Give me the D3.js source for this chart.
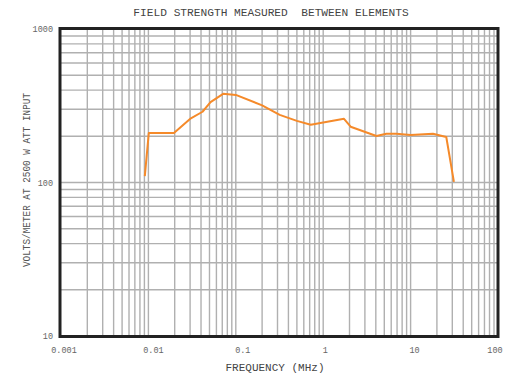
<!DOCTYPE html>
<html><head><meta charset="utf-8">
<script src="https://cdn.jsdelivr.net/npm/d3@7"></script>
<style>body{margin:0;background:#fff}svg{display:block}</style>
</head><body>
<script>
const freqs  = [0.0091, 0.0101, 0.0196, 0.0306, 0.0416, 0.0514, 0.0716, 0.1, 0.2, 0.318, 0.5, 0.72, 1.73, 2.06, 4.06, 5.28, 6.87, 10, 18, 25.6, 31.3];
const values = [110, 210, 210, 262, 289, 334, 378, 372, 318, 276, 252, 238, 260, 231, 201, 208, 208, 204, 208, 198, 101];
const xTickVals = [0.001, 0.01, 0.1, 1, 10, 100];
const xTickLabels = ["0.001", "0.01", "0.1", "1", "10", "100"];
const yTickVals = [10, 100, 1000];
const yTickLabels = ["10", "100", "1000"];
const title = "FIELD STRENGTH MEASURED  BETWEEN ELEMENTS";
const xTitle = "FREQUENCY (MHz)";
const yTitle = "VOLTS/METER AT 2500 W ATT INPUT";

const W = 513, H = 376;
const m = {l: 61, r: 15, t: 29, b: 40};
const svg = d3.select("body").append("svg").attr("width", W).attr("height", H);
const x = d3.scaleLog().domain([0.001, 100]).range([m.l, W - m.r]);
const y = d3.scaleLog().domain([10, 1000]).range([H - m.b, m.t]);
const font = "'Liberation Mono', 'Courier New', monospace";

// grid
const xGrid = [];
for (let d = 0.001; d < 100; d *= 10) for (let k = 1; k <= 9; k++) if (!(d === 0.001 && k === 1)) xGrid.push(d * k);
const yGrid = [];
for (let d = 10; d < 1000; d *= 10) for (let k = 1; k <= 9; k++) if (!(d === 10 && k === 1)) yGrid.push(d * k);

const g = svg.append("g");
g.selectAll("line.vx").data(xGrid).join("line")
  .attr("x1", d => x(d)).attr("x2", d => x(d)).attr("y1", y(10)).attr("y2", y(1000))
  .attr("stroke", "#b0b0b0").attr("stroke-width", 1.4);
g.selectAll("line.hy").data(yGrid).join("line")
  .attr("y1", d => y(d)).attr("y2", d => y(d)).attr("x1", x(0.001)).attr("x2", x(100))
  .attr("stroke", "#b0b0b0").attr("stroke-width", 1.4);

// data line
svg.append("path").datum(freqs.map((f, i) => [f, values[i]]))
  .attr("fill", "none").attr("stroke", "#f58a2a").attr("stroke-width", 2)
  .attr("stroke-linejoin", "round")
  .attr("d", d3.line().x(d => x(d[0])).y(d => y(d[1])));

// frame
svg.append("rect").attr("x", x(0.001) - 1).attr("y", y(1000) - 0.5)
  .attr("width", x(100) - x(0.001) + 1).attr("height", y(10) - y(1000) + 1)
  .attr("fill", "none").attr("stroke", "#222").attr("stroke-width", 3);

// tick labels
svg.selectAll("text.xt").data(xTickVals).join("text")
  .attr("x", (d, i) => x(d) + [3, 5, 7, 2, 4, -3][i]).attr("y", 353)
  .attr("text-anchor", "middle").attr("font-family", font).attr("font-size", 8.5)
  .attr("fill", "#666").text((d, i) => xTickLabels[i]);
svg.selectAll("text.yt").data(yTickVals).join("text")
  .attr("x", 53).attr("y", d => y(d) + 3)
  .attr("text-anchor", "end").attr("font-family", font).attr("font-size", 8.5)
  .attr("fill", "#666").text((d, i) => yTickLabels[i]);

// titles
svg.append("text").attr("x", 271).attr("y", 16).attr("text-anchor", "middle")
  .attr("font-family", font).attr("font-size", 11.2).attr("fill", "#444")
  .attr("xml:space", "preserve").style("white-space", "pre").text(title);
svg.append("text").attr("x", 275).attr("y", 371).attr("text-anchor", "middle")
  .attr("font-family", font).attr("font-size", 11).attr("fill", "#444")
  .style("white-space", "pre").text(xTitle);
svg.append("text").attr("transform", "translate(30,180) rotate(-90)")
  .attr("text-anchor", "middle").attr("font-family", font).attr("font-size", 10.5)
  .attr("fill", "#555").attr("textLength", 174).attr("lengthAdjust", "spacingAndGlyphs")
  .text(yTitle);
</script>
</body></html>
